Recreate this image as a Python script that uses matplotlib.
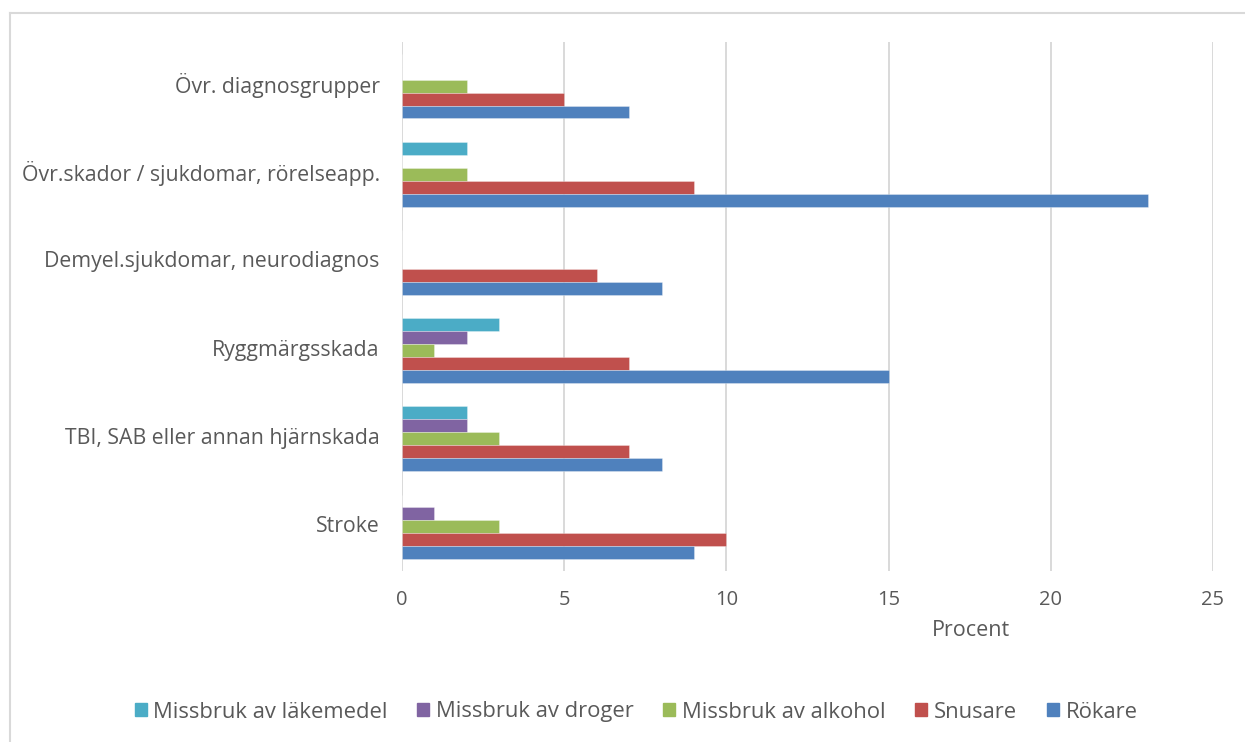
import matplotlib
matplotlib.use("Agg")
import matplotlib.pyplot as plt
import matplotlib.transforms as mtransforms
from matplotlib.lines import Line2D
import numpy as np

plt.rcParams['font.family'] = ['Open Sans', 'DejaVu Sans']

# Diagnosis groups, bottom to top
categories = [
    "Stroke",
    "TBI, SAB eller annan hjärnskada",
    "Ryggmärgsskada",
    "Demyel.sjukdomar, neurodiagnos",
    "Övr.skador / sjukdomar, rörelseapp.",
    "Övr. diagnosgrupper",
]

# Percent per series, same order as categories
lakemedel = [0, 2, 3, 0, 2, 0]
droger = [1, 2, 2, 0, 0, 0]
alkohol = [3, 3, 1, 0, 2, 2]
snusare = [10, 7, 7, 6, 9, 5]
rokare = [9, 8, 15, 8, 23, 7]

series_names = ["Missbruk av läkemedel", "Missbruk av droger",
                "Missbruk av alkohol", "Snusare", "Rökare"]
series_values = [lakemedel, droger, alkohol, snusare, rokare]
series_colors = ["#4BACC6", "#8064A2", "#9BBB59", "#C0504D", "#4F81BD"]

xticks = [0, 5, 10, 15, 20, 25]

W, H = 1245, 742
fig = plt.figure(figsize=(W / 100, H / 100), dpi=100)
ax = fig.add_axes([402 / W, 1 - 571 / H, (1213 - 402) / W, (571 - 42) / H])

text_color = "#595959"
grid_color = "#D9D9D9"

bar_h = 0.147
y = np.arange(len(categories))
for j, (name, vals, col) in enumerate(zip(series_names, series_values, series_colors)):
    offset = (2 - j) * bar_h
    ax.barh(y + offset, vals, height=bar_h, color=col, label=name,
            edgecolor=(1, 1, 1, 0.35), linewidth=0.6, zorder=3)

ax.set_xlim(0, 25)
ax.set_ylim(-0.5, len(categories) - 0.5)
ax.set_xticks(xticks)
ax.set_xticklabels([str(t) for t in xticks])
ax.set_yticks(y)
ax.set_yticklabels(categories)
ax.tick_params(axis='x', length=0, labelsize=14.5, colors=text_color, pad=14)
ax.tick_params(axis='y', length=0, labelsize=15.3, colors=text_color, pad=16)
lift = mtransforms.ScaledTranslation(0, 3 / 100, fig.dpi_scale_trans)
for lbl in ax.get_yticklabels():
    lbl.set_transform(lbl.get_transform() + lift)

for t in xticks:
    ax.axvline(t, color=grid_color, linewidth=1.4, zorder=1)
for s in ax.spines.values():
    s.set_visible(False)

fig.text(971 / W, 1 - 631 / H, "Procent", ha='center', va='center',
         fontsize=15.5, color=text_color)

handles = [plt.Rectangle((0, 0), 1, 1, color=c) for c in series_colors]
leg = fig.legend(handles, series_names, loc='center', ncol=5,
                 bbox_to_anchor=(636 / W, 1 - 712 / H), frameon=False,
                 fontsize=15.8, handlelength=0.55, handleheight=0.55,
                 handletextpad=0.3, columnspacing=1.35)
for txt in leg.get_texts():
    txt.set_color(text_color)

# Chart frame edges
fig.add_artist(Line2D([9.5 / W, 9.5 / W], [0, 1 - 12.5 / H],
                      transform=fig.transFigure, color=grid_color, linewidth=1.5))
fig.add_artist(Line2D([9.5 / W, 1], [1 - 12.5 / H, 1 - 12.5 / H],
                      transform=fig.transFigure, color=grid_color, linewidth=1.5))

fig.savefig("out.png", dpi=100, facecolor="white")
